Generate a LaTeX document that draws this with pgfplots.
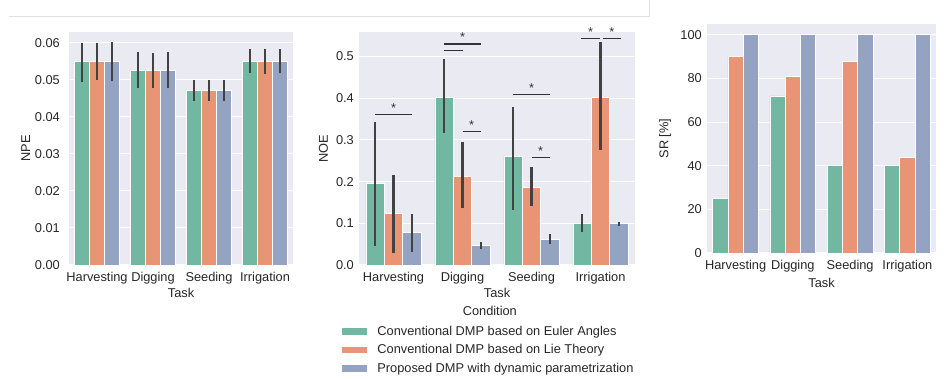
\documentclass[border=0pt]{standalone}
\usepackage{pgfplots}
\usepackage{pgfplotstable}
\pgfplotsset{compat=1.18}
\usepackage{fontspec}
\setmainfont{Liberation Sans}
\definecolor{cg}{HTML}{71B7A1}
\definecolor{co}{HTML}{E99575}
\definecolor{cb}{HTML}{95A3C3}
\definecolor{bgc}{HTML}{EAEAF2}
\definecolor{txt}{HTML}{262626}
\definecolor{errc}{HTML}{424242}
\definecolor{sigc}{HTML}{333333}
\newcommand{\fs}{\fontsize{12.8}{15}\selectfont}
\pgfplotsset{
  sb/.style={
    scale only axis,
    anchor=south west,
    axis background/.style={fill=bgc},
    axis line style={draw=none},
    major tick length=0pt,
    ymajorgrids, xmajorgrids=false,
    grid style={white, line width=1pt},
    xmin=-0.5, xmax=3.5, ymin=0,
    xtick={0,1,2,3},
    xticklabels={Harvesting,Digging,Seeding,Irrigation},
    scaled y ticks=false,
    font=\fs,
    tick label style={font=\fs, text=txt},
    label style={font=\fs, text=txt},
    /pgf/number format/assume math mode=true,
    xticklabel style={anchor=center, inner sep=0pt, yshift=-13pt},
    yticklabel style={anchor=east, inner sep=0pt},
    xlabel={Task},
    clip=false,
  },
  bb/.style={ybar, bar width=0.26667, draw=white, line width=0.8pt, bar shift=0pt},
  eb/.style={error bars/y dir=both, error bars/y explicit, error bars/error mark=none,
     error bars/error bar style={line width=2.6pt, color=errc, solid}},
  lg/.style={legend image code/.code={\fill[#1, draw=none] (0pt,-3.4pt) rectangle (25pt,3.4pt);}},
  sig/.style={sharp plot, draw=sigc, line width=1.2pt, mark=none, forget plot},
}
% NPE tables: x y lo hi
\pgfplotstableread{
x y lo hi
0 0.0549 0.0495 0.0600
1 0.0524 0.0478 0.0576
2 0.0470 0.0443 0.0499
3 0.0549 0.0517 0.0583
}\npeA
\pgfplotstableread{
x y lo hi
0 0.0549 0.0499 0.0598
1 0.0524 0.0477 0.0571
2 0.0470 0.0443 0.0499
3 0.0549 0.0516 0.0584
}\npeB
\pgfplotstableread{
x y lo hi
0 0.0549 0.0496 0.0601
1 0.0524 0.0477 0.0574
2 0.0470 0.0443 0.0500
3 0.0549 0.0517 0.0583
}\npeC
% NOE tables
\pgfplotstableread{
x y lo hi
0 0.195 0.046 0.344
1 0.402 0.316 0.494
2 0.260 0.132 0.378
3 0.099 0.078 0.122
}\noeA
\pgfplotstableread{
x y lo hi
0 0.124 0.028 0.216
1 0.212 0.136 0.294
2 0.186 0.142 0.234
3 0.403 0.277 0.534
}\noeB
\pgfplotstableread{
x y lo hi
0 0.078 0.030 0.122
1 0.046 0.038 0.054
2 0.062 0.050 0.074
3 0.099 0.093 0.104
}\noeC
% SR table
\pgfplotstableread{
x a b c
0 25 90 100
1 72 81 100
2 40 88 100
3 40 44 100
}\sr
\begin{document}
\begin{tikzpicture}
\path[use as bounding box] (0pt,0pt) rectangle (946pt,379pt);
\draw[color=black!12, line width=0.8pt] (9pt,363pt) -- (649pt,363pt) -- (649pt,379pt);

% ---------- NPE ----------
\begin{axis}[sb, at={(69pt,114pt)}, width=224pt, height=233pt,
  ymax=0.0629, ytick={0,0.01,0.02,0.03,0.04,0.05,0.06},
  yticklabel style={xshift=-9pt, /pgf/number format/fixed, /pgf/number format/fixed zerofill, /pgf/number format/precision=2},
  ylabel={NPE},
  ylabel style={at={(axis description cs:-0.193,0.5)}, anchor=center},
  xlabel style={at={(axis description cs:0.5,-0.121)}, anchor=center},
]
\addplot[bb, fill=cg, eb] table[x expr=\thisrow{x}-0.26667, y=y, y error plus expr=\thisrow{hi}-\thisrow{y}, y error minus expr=\thisrow{y}-\thisrow{lo}] {\npeA};
\addplot[bb, fill=co, eb] table[x expr=\thisrow{x}, y=y, y error plus expr=\thisrow{hi}-\thisrow{y}, y error minus expr=\thisrow{y}-\thisrow{lo}] {\npeB};
\addplot[bb, fill=cb, eb] table[x expr=\thisrow{x}+0.26667, y=y, y error plus expr=\thisrow{hi}-\thisrow{y}, y error minus expr=\thisrow{y}-\thisrow{lo}] {\npeC};
\end{axis}

% ---------- NOE ----------
\begin{axis}[sb, at={(359pt,114pt)}, width=276pt, height=233pt,
  ymax=0.559, ytick={0,0.1,0.2,0.3,0.4,0.5},
  yticklabel style={xshift=-5pt, /pgf/number format/fixed, /pgf/number format/fixed zerofill, /pgf/number format/precision=1},
  ylabel={NOE},
  ylabel style={at={(axis description cs:-0.129,0.5)}, anchor=center},
  xlabel style={at={(axis description cs:0.5,-0.121)}, anchor=center},
  legend style={at={(axis description cs:-0.0627,-0.262)}, anchor=north west, draw=none, fill=none,
    inner sep=0pt, row sep=7.5pt, font=\fs, text=txt, nodes={inner sep=0pt},
    /tikz/every odd column/.append style={column sep=10.5pt}},
  legend cell align=left,
]
\addplot[bb, fill=cg, eb, lg] table[x expr=\thisrow{x}-0.26667, y=y, y error plus expr=\thisrow{hi}-\thisrow{y}, y error minus expr=\thisrow{y}-\thisrow{lo}] {\noeA};
\addlegendentry{Conventional DMP based on Euler Angles}
\addplot[bb, fill=co, eb, lg] table[x expr=\thisrow{x}, y=y, y error plus expr=\thisrow{hi}-\thisrow{y}, y error minus expr=\thisrow{y}-\thisrow{lo}] {\noeB};
\addlegendentry{Conventional DMP based on Lie Theory}
\addplot[bb, fill=cb, eb, lg] table[x expr=\thisrow{x}+0.26667, y=y, y error plus expr=\thisrow{hi}-\thisrow{y}, y error minus expr=\thisrow{y}-\thisrow{lo}] {\noeC};
\addlegendentry{Proposed DMP with dynamic parametrization}
% significance brackets
\addplot[sig] coordinates {(-0.2667,0.362) (0.2667,0.362)};
\addplot[sig] coordinates {(0.7333,0.530) (1.2667,0.530)};
\addplot[sig] coordinates {(0.7333,0.514) (1.0,0.514)};
\addplot[sig] coordinates {(1.0,0.320) (1.2667,0.320)};
\addplot[sig] coordinates {(1.7333,0.409) (2.2667,0.409)};
\addplot[sig] coordinates {(2.0,0.258) (2.2667,0.258)};
\addplot[sig] coordinates {(2.72,0.543) (2.99,0.543)};
\addplot[sig] coordinates {(3.03,0.543) (3.30,0.543)};
\begin{scope}[every node/.style={font=\fs, text=sigc, anchor=base, inner sep=0pt}]
\node at (axis cs:0,0.367) {*};
\node at (axis cs:1.0,0.535) {*};
\node at (axis cs:1.133,0.325) {*};
\node at (axis cs:2.0,0.414) {*};
\node at (axis cs:2.133,0.263) {*};
\node at (axis cs:2.855,0.548) {*};
\node at (axis cs:3.165,0.548) {*};
\end{scope}
\node[font=\fs, text=txt, anchor=center] at (axis description cs:0.474,-0.197) {Condition};
\end{axis}

% ---------- SR ----------
\begin{axis}[sb, at={(707pt,126pt)}, width=229pt, height=229pt,
  ymax=105, ytick={0,20,40,60,80,100},
  yticklabel style={xshift=-5pt},
  ylabel={SR [\%]},
  ylabel style={at={(axis description cs:-0.183,0.5)}, anchor=center},
  xlabel style={at={(axis description cs:0.5,-0.132)}, anchor=center},
]
\addplot[bb, fill=cg] table[x expr=\thisrow{x}-0.26667, y=a] {\sr};
\addplot[bb, fill=co] table[x expr=\thisrow{x}, y=b] {\sr};
\addplot[bb, fill=cb] table[x expr=\thisrow{x}+0.26667, y=c] {\sr};
\end{axis}
\end{tikzpicture}
\end{document}
